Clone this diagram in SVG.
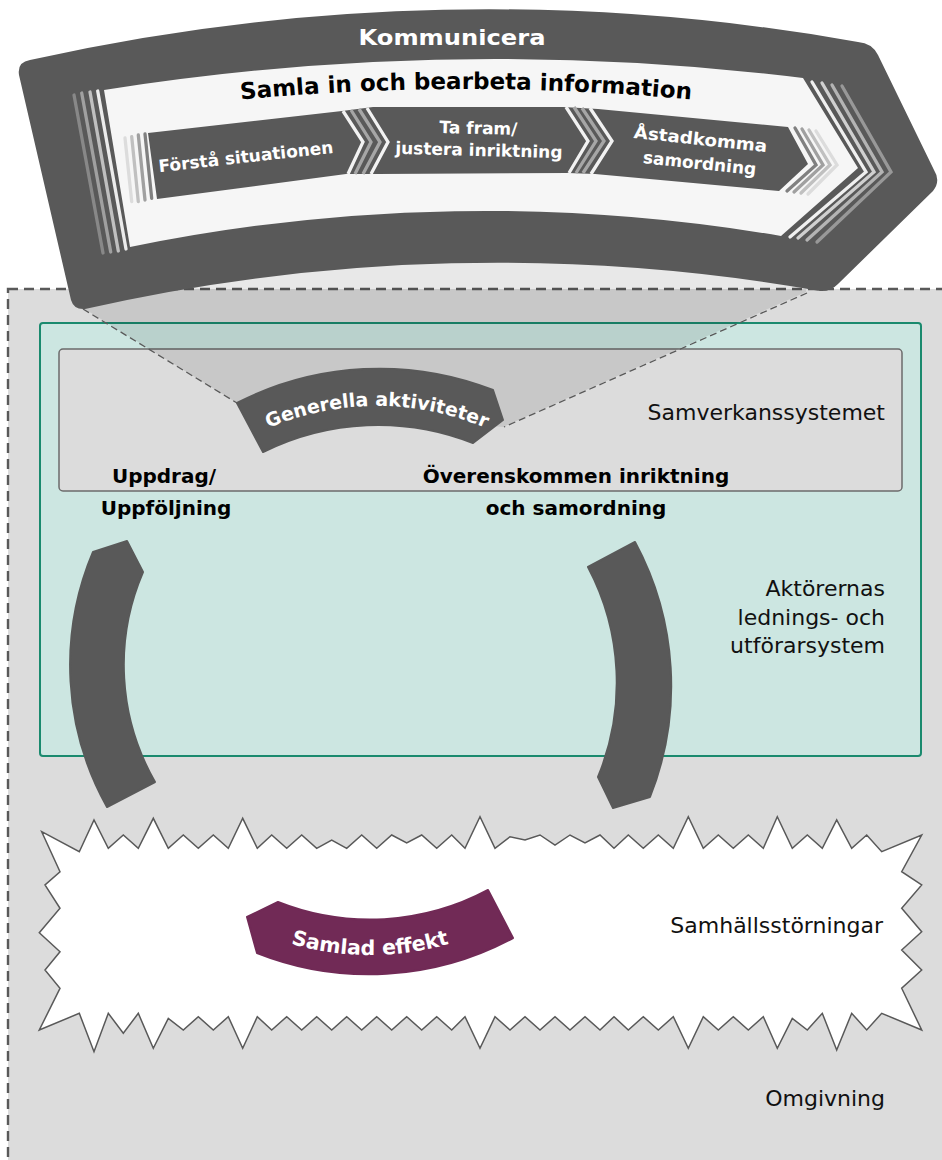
<svg xmlns="http://www.w3.org/2000/svg" width="942" height="1160" viewBox="0 0 942 1160">
<style>
.dark{fill:#595959}
.b{font-family:"DejaVu Sans","Liberation Sans",sans-serif;font-weight:bold}
.r{font-family:"DejaVu Sans","Liberation Sans",sans-serif;font-weight:normal;fill:#111;font-size:22px}
.w{fill:#fff}
.st{fill:none;stroke-width:3.3;stroke-linejoin:miter}
.rc{stroke-linecap:round}
.arc{stroke:#595959;stroke-width:2;stroke-linejoin:round}
</style>
<defs>
<path id="pSamla" d="M 142,111 A 2400 2400 0 0 1 790,111"/>
<path id="pGen" d="M 164.8,504.9 A 277 277 0 0 1 589.2,504.9"/>
<path id="pSam" d="M 186.8,888.3 A 285 285 0 0 0 553.2,888.3"/>
</defs>
<rect width="942" height="1160" fill="#fff"/>

<g id="omgivning">
<rect x="8" y="289" width="950" height="900" fill="#dcdcdc" stroke="#595959" stroke-width="2.4" stroke-dasharray="10,6"/>
<text class="r" x="885" y="1106" text-anchor="end">Omgivning</text>
</g>

<g id="aktorer">
<rect x="40" y="323" width="881" height="433" rx="3" fill="#cce6e1" stroke="#1a8a6e" stroke-width="2"/>
<text class="r" text-anchor="end"><tspan x="885" y="596">Aktörernas</tspan><tspan x="885" y="625">lednings- och</tspan><tspan x="885" y="653">utförarsystem</tspan></text>
</g>

<g id="samverkanssystemet">
<rect x="59" y="349" width="843" height="142" rx="4" fill="#dcdcdc" stroke="#6b6b6b" stroke-width="1.5"/>
<text class="r" x="885" y="420" text-anchor="end">Samverkanssystemet</text>
</g>

<g id="projektion">
<polygon points="83,308 83,250 805,250 806,292 503,427 237,403" fill="#000" fill-opacity="0.09"/>
</g>

<g id="connectors" fill="none" stroke="#595959" stroke-width="1.3" stroke-dasharray="7,4">
<line x1="83" y1="309" x2="237" y2="403"/>
<line x1="807" y1="293" x2="504" y2="427"/>
</g>

<g id="kommunicera">
<path class="dark" d="M 19,75 Q 17,62 30,60 A 2100 2100 0 0 1 858,42 Q 872,43 878,55 L 934,170 Q 941,181 933,191 L 838,284 Q 830,292 820,291 A 1860 1860 0 0 0 85,309 Q 74,310 71,300 Z"/>
<text class="b w" x="452" y="45" font-size="22" text-anchor="middle" textLength="187" lengthAdjust="spacingAndGlyphs">Kommunicera</text>
<g class="st rc">
<line x1="74" y1="95" x2="103" y2="253" stroke="#888"/>
<line x1="81.7" y1="93" x2="110.7" y2="252" stroke="#a0a0a0"/>
<line x1="90" y1="92" x2="118.3" y2="251" stroke="#c0c0c0"/>
<line x1="97.7" y1="91" x2="126" y2="249" stroke="#ececec"/>
<polyline points="812,82 866,172 790,237" stroke="#f0f0f0"/>
<polyline points="822,83 874,172 798,238" stroke="#d0d0d0"/>
<polyline points="832,85 882,172 807,240" stroke="#b4b4b4"/>
<polyline points="842,86 891,172 817,242" stroke="#989898"/>
</g>
</g>

<g id="samla-in">
<path fill="#f6f6f6" d="M 104,90 A 2500 2500 0 0 1 803,78 L 858,168 L 781,236 A 1760 1760 0 0 0 130,247 Z"/>
<text class="b" font-size="23" fill="#000"><textPath href="#pSamla" startOffset="50%" text-anchor="middle">Samla in och bearbeta information</textPath></text>
</g>

<g id="steg">
<polygon class="dark" points="148,133 342,111 373,107 563,107 598,109 788,127 808,164 779,191 595,174 568,173 377,174 346,174 157,199"/>
<g class="st rc">
<line x1="125" y1="138" x2="131.7" y2="201.7" stroke="#dcdcdc"/>
<line x1="131.7" y1="136.7" x2="138.3" y2="201.7" stroke="#c0c0c0"/>
<line x1="138.3" y1="135" x2="145" y2="200" stroke="#a0a0a0"/>
<line x1="145" y1="134" x2="151.7" y2="198.3" stroke="#808080"/>
<polyline points="795,128 816,165 787,191" stroke="#808080"/>
<polyline points="802,129 823,165 794,192" stroke="#a0a0a0"/>
<polyline points="809,130 830,165 801,193" stroke="#c0c0c0"/>
<polyline points="816,131 837,165 808,194" stroke="#dcdcdc"/>
</g>
<g class="st">
<polyline points="343,111 363,142 348,174" stroke="#f2f2f2"/>
<polyline points="351,110 371,142 355,174" stroke="#a6a6a6"/>
<polyline points="359,109 380,142 363,174" stroke="#a6a6a6"/>
<polyline points="367,108 388,142 371,174" stroke="#f2f2f2"/>
<polyline points="566,107 588,141 569,173" stroke="#f2f2f2"/>
<polyline points="574,107 596,141 576,173" stroke="#a6a6a6"/>
<polyline points="582,108 604,141 583,173" stroke="#a6a6a6"/>
<polyline points="590,108 612,141 591,174" stroke="#f2f2f2"/>
</g>
<text class="b w" font-size="17" x="246.5" y="162.5" text-anchor="middle" transform="rotate(-6.3 246.5 162.5)">Förstå situationen</text>
<text class="b w" font-size="17" text-anchor="middle" transform="rotate(1.5 479 146)"><tspan x="478" y="134">Ta fram/</tspan><tspan x="479" y="156">justera inriktning</tspan></text>
<text class="b w" font-size="17" text-anchor="middle" transform="rotate(6 700 145)"><tspan x="700" y="145" textLength="134" lengthAdjust="spacingAndGlyphs">Åstadkomma</tspan><tspan x="701.5" y="169">samordning</tspan></text>
</g>

<g id="labels">
<text class="b" font-size="20" fill="#000" text-anchor="middle"><tspan x="164" y="483">Uppdrag/</tspan><tspan x="166" y="515">Uppföljning</tspan></text>
<text class="b" font-size="20" fill="#000" text-anchor="middle"><tspan x="576" y="483">Överenskommen inriktning</tspan><tspan x="576" y="515">och samordning</tspan></text>
</g>

<g id="samhallsstorningar">
<polygon fill="#fff" stroke="#595959" stroke-width="1.5" stroke-linejoin="miter" points="41.7,831.7 79.3,851.7 94,820 108.3,848.3 123.3,835 138.3,848.3 153.3,818.3 168.3,848.3 183.3,835 198.3,848.3 213.3,835 228.3,848.3 242.7,818.3 257.3,848.3 271.7,835 286.7,848.3 301.7,835 316.7,848.3 331.7,840 346.7,848.3 361.7,835 376.7,848.3 391.7,835 406.7,843 421.7,835 436.7,848.3 451.7,835 465,848.3 480,816.7 495,848.3 510,836.7 525,840 540,835 555,845 570,835 585,843 600,835 614,848.3 628.3,835 643.3,848.3 658.3,835 673.3,848.3 688.3,816.7 703.3,848.3 718.3,835 733.3,848.3 748.3,835 763.3,848.3 777.3,816.7 792.3,848.3 807.3,835 822.3,848.3 836.7,820 851.7,848.3 866.7,835 881.7,851.7 921.7,835 901.7,871.7 921.7,885 901.7,908.3 921.7,931.7 901.7,950 921.7,970 901.7,988.3 921.7,1030 881.7,1013.3 866.7,1030 851.7,1013.3 836.7,1050 822.3,1013.3 807.3,1030 792.3,1018.3 777.3,1048.3 763.3,1016.7 748.3,1030 733.3,1016.7 718.3,1030 703.3,1016.7 688.3,1048.3 673.3,1016.7 658.3,1030 643.3,1016.7 628.3,1030 614,1016.7 600,1030 585,1016.7 570,1030 555,1016.7 540,1030 525,1016.7 510,1030 495,1016.7 480,1048.3 465,1016.7 451.7,1030 436.7,1016.7 421.7,1030 406.7,1016.7 391.7,1030 376.7,1016.7 361.7,1030 346.7,1016.7 331.7,1030 316.7,1016.7 301.7,1030 286.7,1016.7 271.7,1030 257.3,1016.7 242.7,1048.3 228.3,1016.7 213.3,1030 198.3,1016.7 183.3,1030 168.3,1018.3 153.3,1048.3 138.3,1013.3 123.3,1033.3 108.3,1013.3 94,1051.7 79.3,1013.3 39.3,1030 60,988.3 45,970 60,951.7 39.3,932.7 60,908.3 45,885 60,871.7"/>
<text class="r" x="883" y="933" text-anchor="end">Samhällsstörningar</text>
</g>

<g id="generella-aktiviteter">
<path class="dark arc" d="M 237,403 A 313 313 0 0 1 493,390 L 503,420 L 473,443 A 258 258 0 0 0 263,452 Z"/>
<text class="b w" font-size="19"><textPath href="#pGen" startOffset="50%" text-anchor="middle">Generella aktiviteter</textPath></text>
</g>

<g id="uppdrag-pil">
<path class="dark arc" d="M 107,807 A 291 291 0 0 1 93,552 L 127,541 L 143,572 A 235 235 0 0 0 155,782 Z"/>
</g>

<g id="inriktning-pil">
<path class="dark arc" d="M 635,542 A 303 303 0 0 1 650,797 L 613,808 L 598,777 A 247 247 0 0 0 588,567 Z"/>
</g>

<g id="samlad-effekt">
<path d="M 513,938 A 304 304 0 0 1 257,953 L 247,917 L 278,902 A 250 250 0 0 0 488,890 Z" fill="#712a56" stroke="#712a56" stroke-width="2" stroke-linejoin="round"/>
<text class="b w" font-size="20.5"><textPath href="#pSam" startOffset="50%" text-anchor="middle">Samlad effekt</textPath></text>
</g>
</svg>
